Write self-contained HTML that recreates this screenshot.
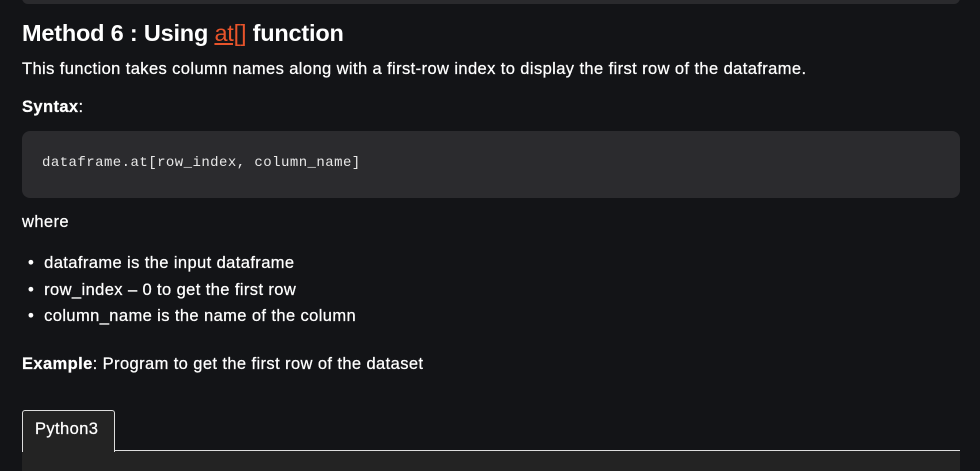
<!DOCTYPE html>
<html><head><meta charset="utf-8"><style>
body{margin:0;width:980px;height:462px;background:#131417;color:#fff;font-family:"Liberation Sans",sans-serif;position:relative;overflow:hidden}
.a{position:absolute;white-space:nowrap}
.t{font-size:16.5px;letter-spacing:0.4px;-webkit-text-stroke:0.25px #fff}
</style></head><body>
<div class="a" style="left:22px;top:-10px;width:938px;height:14px;background:#2a2a2d;border-radius:6px"></div>
<div class="a" style="left:22px;top:20px;font-size:23.5px;font-weight:bold;letter-spacing:-0.2px">Method 6 : Using <span style="color:#e8542b;font-weight:normal;text-decoration:underline">at[]</span> function</div>
<div class="a t" style="left:22px;top:60px">This function takes column names along with a first-row index to display the first row of the dataframe.</div>
<div class="a t" style="left:22px;top:98px"><b>Syntax</b>:</div>
<div class="a" style="left:22px;top:131px;width:938px;height:67px;background:#2b2b2e;border-radius:8px"></div>
<div class="a" style="left:42px;top:155px;font-family:'Liberation Mono',monospace;font-size:14px;letter-spacing:0.45px;color:#e8e8e8">dataframe.at[row_index, column_name]</div>
<div class="a t" style="left:22px;top:213px">where</div>
<div class="a t" style="left:28px;top:250px;line-height:26.5px">
<div>•&nbsp;&nbsp;dataframe is the input dataframe</div>
<div>•&nbsp;&nbsp;row_index – 0 to get the first row</div>
<div>•&nbsp;&nbsp;column_name is the name of the column</div>
</div>
<div class="a t" style="left:22px;top:355px"><b>Example</b>: Program to get the first row of the dataset</div>
<div class="a" style="left:22px;top:450px;width:938px;height:20px;background:#232323;border-top:1px solid #ddd"></div>
<div class="a" style="left:22px;top:410px;width:91px;height:41px;background:#232323;border:1px solid #ddd;border-bottom:none;border-radius:3px 3px 0 0"></div>
<div class="a t" style="left:35px;top:420px">Python3</div>
</body></html>
